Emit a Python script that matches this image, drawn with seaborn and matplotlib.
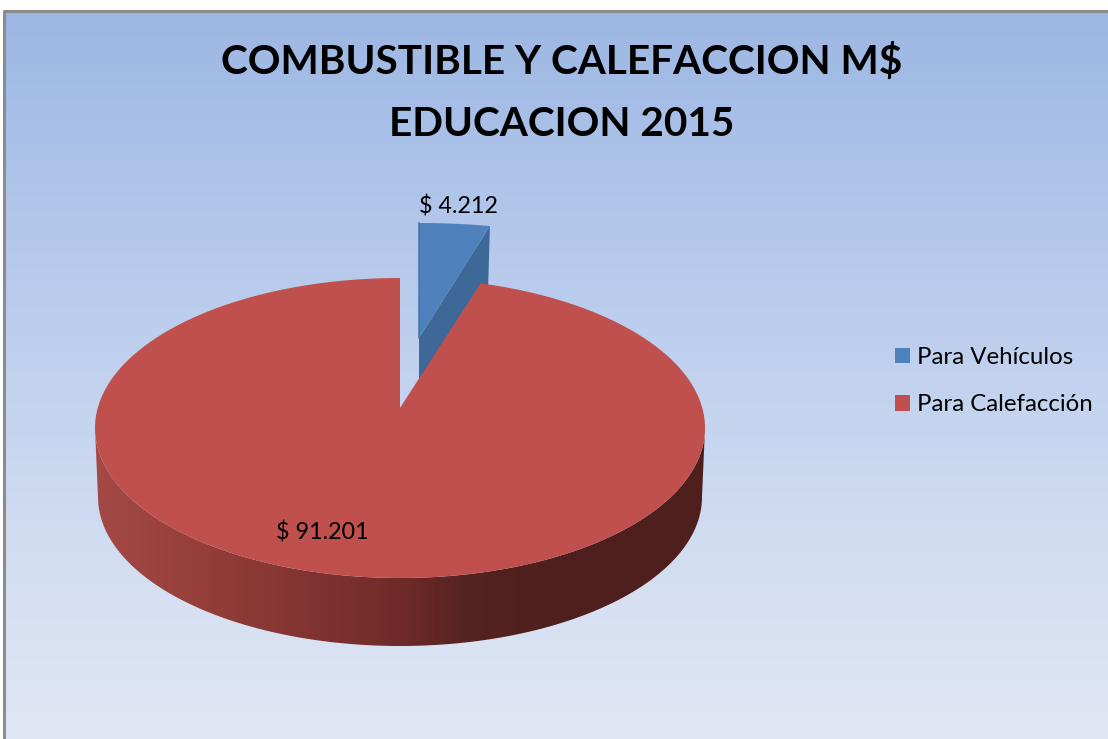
import numpy as np
import matplotlib
matplotlib.use("Agg")
import matplotlib.pyplot as plt
from matplotlib.patches import Polygon, Patch
from matplotlib.colors import to_rgb
import seaborn as sns

# --- data ---
categories = ["Para Vehículos", "Para Calefacción"]
values = [4212, 91201]
title_lines = ["COMBUSTIBLE Y CALEFACCION M$", "EDUCACION 2015"]

# --- style ---
top_colors = ["#4f81bd", "#c0504d"]
blue_side = "#3d6898"
side_x = [95, 190, 330, 400, 470, 560, 705]
side_c = ["#a44a46", "#973f3b", "#7d3230", "#6f2b29", "#552320", "#4e1f1c", "#4e1f1c"]
bg_y = [11, 100, 350, 600, 739]
bg_c = ["#9cb7e3", "#a6bee7", "#bfd0ee", "#d6e0f2", "#e0e7f4"]

sns.set_theme(style="white", font="Lato")
W, H = 1108, 739
fig = plt.figure(figsize=(W / 100, H / 100), dpi=100, facecolor="white")
ax = fig.add_axes([0, 0, 1, 1])
ax.set_xlim(0, W)
ax.set_ylim(H, 0)
ax.axis("off")


def ramp(pos, stops, colors):
    rgb = np.array([to_rgb(c) for c in colors])
    return np.stack([np.interp(pos, stops, rgb[:, i]) for i in range(3)], axis=-1)


# background gradient and frame
ys = np.arange(11, H + 1)
ax.imshow(ramp(ys, bg_y, bg_c)[:, None, :], extent=(4, W, H, 11), aspect="auto", zorder=0,
          interpolation="bilinear")
ax.plot([4, 4, W], [H, 11, 11], color="#8c8c8c", lw=2.2, zorder=1, solid_capstyle="butt")
ax.set_xlim(0, W)
ax.set_ylim(H, 0)

# slice angles come from the values (clockwise from 12 o'clock)
total = sum(values)
split = 2 * np.pi * values[0] / total


def arc(cx, cy, rx, ry, a0, a1, n=300):
    t = np.linspace(a0, a1, n)
    return np.column_stack([cx + rx * np.sin(t), cy - ry * np.cos(t)])


# exploded blue slice
b_top = arc(419, 303, 259, 80, 0, split, 40)
b_apex = np.array([419, 338])
b_low = b_top[-1] + np.array([-2, 68])
ax.add_patch(Polygon([b_apex, b_top[-1], b_low, b_apex + [0, 68]], fc=blue_side, ec="none", zorder=2))
ax.add_patch(Polygon(np.vstack([b_apex, b_top]), fc=top_colors[0], ec="none", zorder=3))
ax.plot([419, 419], [223, 338], color="#44709f", lw=1.5, zorder=3.1, alpha=.7)

# red wall: silhouette between top rim and lower rim, shaded by x
rim_top = arc(400, 428, 305, 150, np.pi / 2, 3 * np.pi / 2)
rim_low = arc(400, 497, 302, 149, np.pi / 2, 3 * np.pi / 2)
wall = Polygon(np.vstack([rim_top, rim_low[::-1]]), fc="none", ec="none", transform=ax.transData)
ax.add_patch(wall)
xs = np.arange(90, 710)
im = ax.imshow(ramp(xs, side_x, side_c)[None, :, :], extent=(90, 710, 660, 420), aspect="auto",
               zorder=4, interpolation="bilinear")
im.set_clip_path(wall)
ax.set_xlim(0, W)
ax.set_ylim(H, 0)

# red top face
r_arc = arc(400, 428, 305, 150, split - 0.01, 2 * np.pi)
ax.add_patch(Polygon(np.vstack([[400, 408], r_arc]), fc=top_colors[1], ec="none", zorder=5))

# texts
fmt = lambda v: "$ " + f"{v:,}".replace(",", ".")
ax.text(458, 207, fmt(values[0]), ha="center", va="center", fontsize=16.8, color="black", zorder=6)
ax.text(322, 533, fmt(values[1]), ha="center", va="center", fontsize=16.8, color="black", zorder=6)
ax.text(561.5, 62, title_lines[0], ha="center", va="center", fontsize=29.2, fontweight="bold", color="black", zorder=6)
ax.text(561.5, 124, title_lines[1], ha="center", va="center", fontsize=29.2, fontweight="bold", color="black", zorder=6)

handles = [Patch(fc=c, ec="none", label=l) for c, l in zip(top_colors, categories)]
ax.legend(handles=handles, loc="upper left", bbox_to_anchor=(883 / W, 1 - 335 / H), frameon=False,
          fontsize=17.3, labelcolor="black", handlelength=0.625, handleheight=0.625, handletextpad=0.29,
          labelspacing=1.09, borderpad=0, borderaxespad=0.5)

fig.savefig("out.png", dpi=100, facecolor="white")
